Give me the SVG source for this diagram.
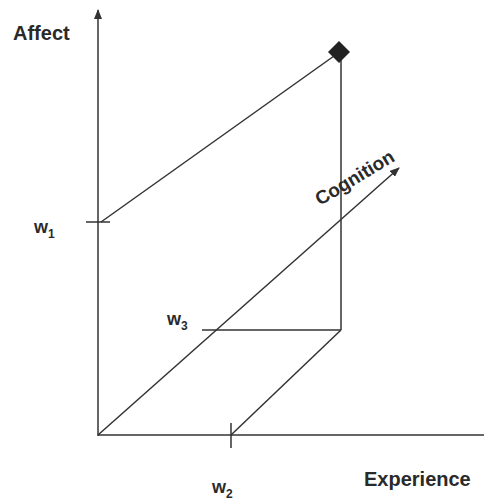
<svg xmlns="http://www.w3.org/2000/svg" width="484" height="501" viewBox="0 0 484 501">
<style>
.ln{stroke:#333;stroke-width:1.5;fill:none}
.lb{font-family:"Liberation Sans",Arial,sans-serif;font-weight:bold;fill:#2a2a2a}
.big{font-size:20px}
.w{font-size:18px}
.sub{font-size:12px}
</style>
<defs>
<marker id="ah" markerWidth="10" markerHeight="8" refX="9" refY="4" orient="auto" markerUnits="userSpaceOnUse">
<path d="M0,0 L10,4 L0,8 Z" fill="#333"/>
</marker>
</defs>
<rect width="484" height="501" fill="#fff"/>
<g id="connectors">
<line class="ln" x1="98" y1="436" x2="98" y2="10" marker-end="url(#ah)"/>
<line class="ln" x1="98" y1="435" x2="484" y2="435"/>
<line class="ln" x1="98" y1="435" x2="399" y2="168" marker-end="url(#ah)"/>
<line class="ln" x1="86" y1="222" x2="110" y2="222"/>
<line class="ln" x1="231" y1="423" x2="231" y2="448"/>
<line class="ln" x1="101" y1="222" x2="334" y2="56"/>
<line class="ln" x1="341" y1="58" x2="341" y2="330"/>
<line class="ln" x1="202" y1="330" x2="341" y2="330"/>
<line class="ln" x1="231" y1="435" x2="341" y2="330"/>
</g>
<g id="point">
<path d="M339,41 L350,52 L339,63 L328,52 Z" fill="#222"/>
</g>
<g id="affect"><text class="lb big" x="13" y="40">Affect</text></g>
<g id="experience"><text class="lb big" x="364" y="486">Experience</text></g>
<g id="cognition"><text class="lb" font-size="19" transform="translate(320,206) rotate(-31)">Cognition</text></g>
<g id="w1"><text class="lb w" x="34" y="233">w<tspan class="sub" dy="5">1</tspan></text></g>
<g id="w3"><text class="lb w" x="167" y="325">w<tspan class="sub" dy="5">3</tspan></text></g>
<g id="w2"><text class="lb w" x="212" y="493">w<tspan class="sub" dy="5">2</tspan></text></g>
</svg>
